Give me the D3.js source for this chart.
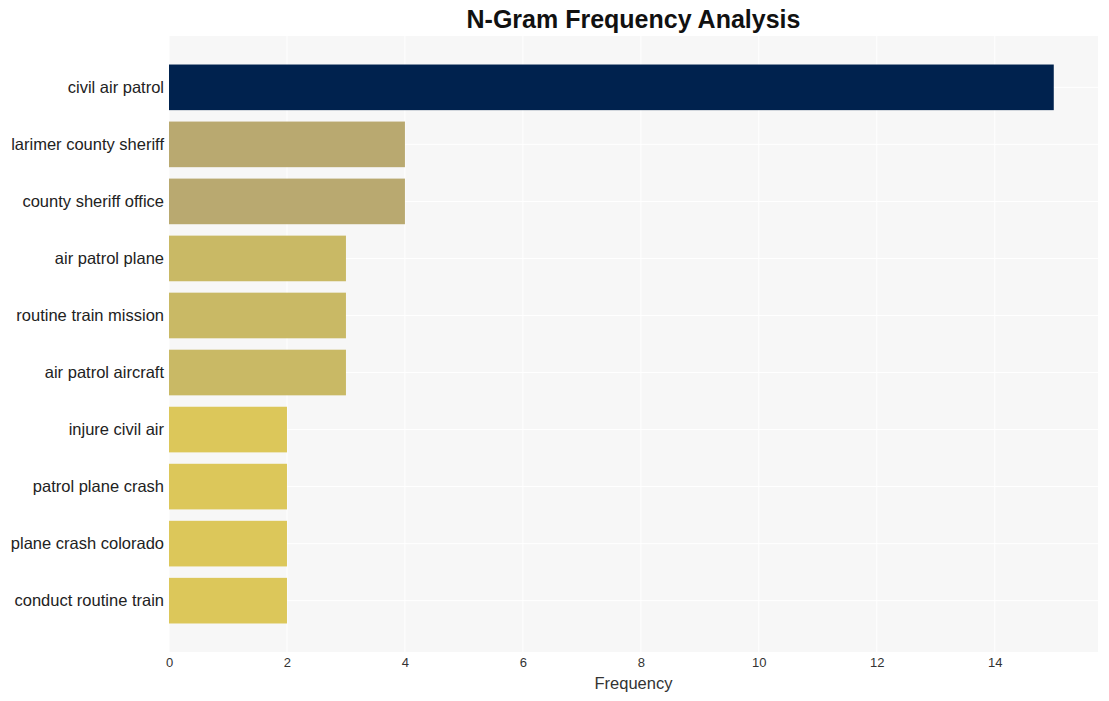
<!DOCTYPE html>
<html><head><meta charset="utf-8">
<script src="https://cdn.jsdelivr.net/npm/d3@7"></script>
<style>body{margin:0;background:#fff;} svg{display:block;font-family:"Liberation Sans",Arial,sans-serif;}</style>
</head><body>
<svg id="c" width="1109" height="701"></svg>
<script>
const categories = ["civil air patrol","larimer county sheriff","county sheriff office","air patrol plane","routine train mission","air patrol aircraft","injure civil air","patrol plane crash","plane crash colorado","conduct routine train"];
const values = [15,4,4,3,3,3,2,2,2,2];
const xTicks = [0,2,4,6,8,10,12,14];
const colorFor = v => v >= 10 ? "#00224e" : v >= 4 ? "#b9a970" : v >= 3 ? "#c9b965" : "#dcc75a";

const svg = d3.select("#c");
const m = {l:169, r:1098, t:36, b:652};
const x = d3.scaleLinear().domain([0, 15.75]).range([m.l, m.r]);
const y = d3.scaleBand().domain(categories).range([m.t, m.b]).paddingInner(0.2).paddingOuter(0.5);

svg.append("rect").attr("x",m.l).attr("y",m.t).attr("width",m.r-m.l).attr("height",m.b-m.t).attr("fill","#f7f7f7");
svg.append("g").selectAll("line").data(xTicks).join("line")
  .attr("x1",d=>x(d)).attr("x2",d=>x(d)).attr("y1",m.t).attr("y2",m.b)
  .attr("stroke","#ffffff").attr("stroke-width",1);
svg.append("g").selectAll("line").data(categories).join("line")
  .attr("x1",m.l).attr("x2",m.r).attr("y1",d=>y(d)+y.bandwidth()/2).attr("y2",d=>y(d)+y.bandwidth()/2)
  .attr("stroke","#ffffff").attr("stroke-width",1);

svg.append("g").selectAll("rect").data(categories).join("rect")
  .attr("x",x(0)).attr("y",d=>y(d)).attr("height",y.bandwidth())
  .attr("width",(d,i)=>x(values[i])-x(0)).attr("fill",(d,i)=>colorFor(values[i]));

const xa = svg.append("g").attr("transform",`translate(0,${m.b})`)
  .call(d3.axisBottom(x).tickValues(xTicks).tickSize(0).tickPadding(6));
xa.select(".domain").remove();
xa.selectAll("text").attr("font-size",13).attr("fill","#333").attr("font-family","Liberation Sans, Arial, sans-serif");

const ya = svg.append("g").attr("transform",`translate(${m.l},0)`)
  .call(d3.axisLeft(y).tickSize(0).tickPadding(5));
ya.select(".domain").remove();
ya.selectAll("text").attr("font-size",16.5).attr("fill","#222").attr("font-family","Liberation Sans, Arial, sans-serif");

svg.append("text").attr("x",(m.l+m.r)/2).attr("y",689).attr("text-anchor","middle")
  .attr("font-size",16.5).attr("fill","#333").text("Frequency");
svg.append("text").attr("x",(m.l+m.r)/2).attr("y",28).attr("text-anchor","middle")
  .attr("font-size",25).attr("font-weight","bold").attr("fill","#111").text("N-Gram Frequency Analysis");
</script>
</body></html>
